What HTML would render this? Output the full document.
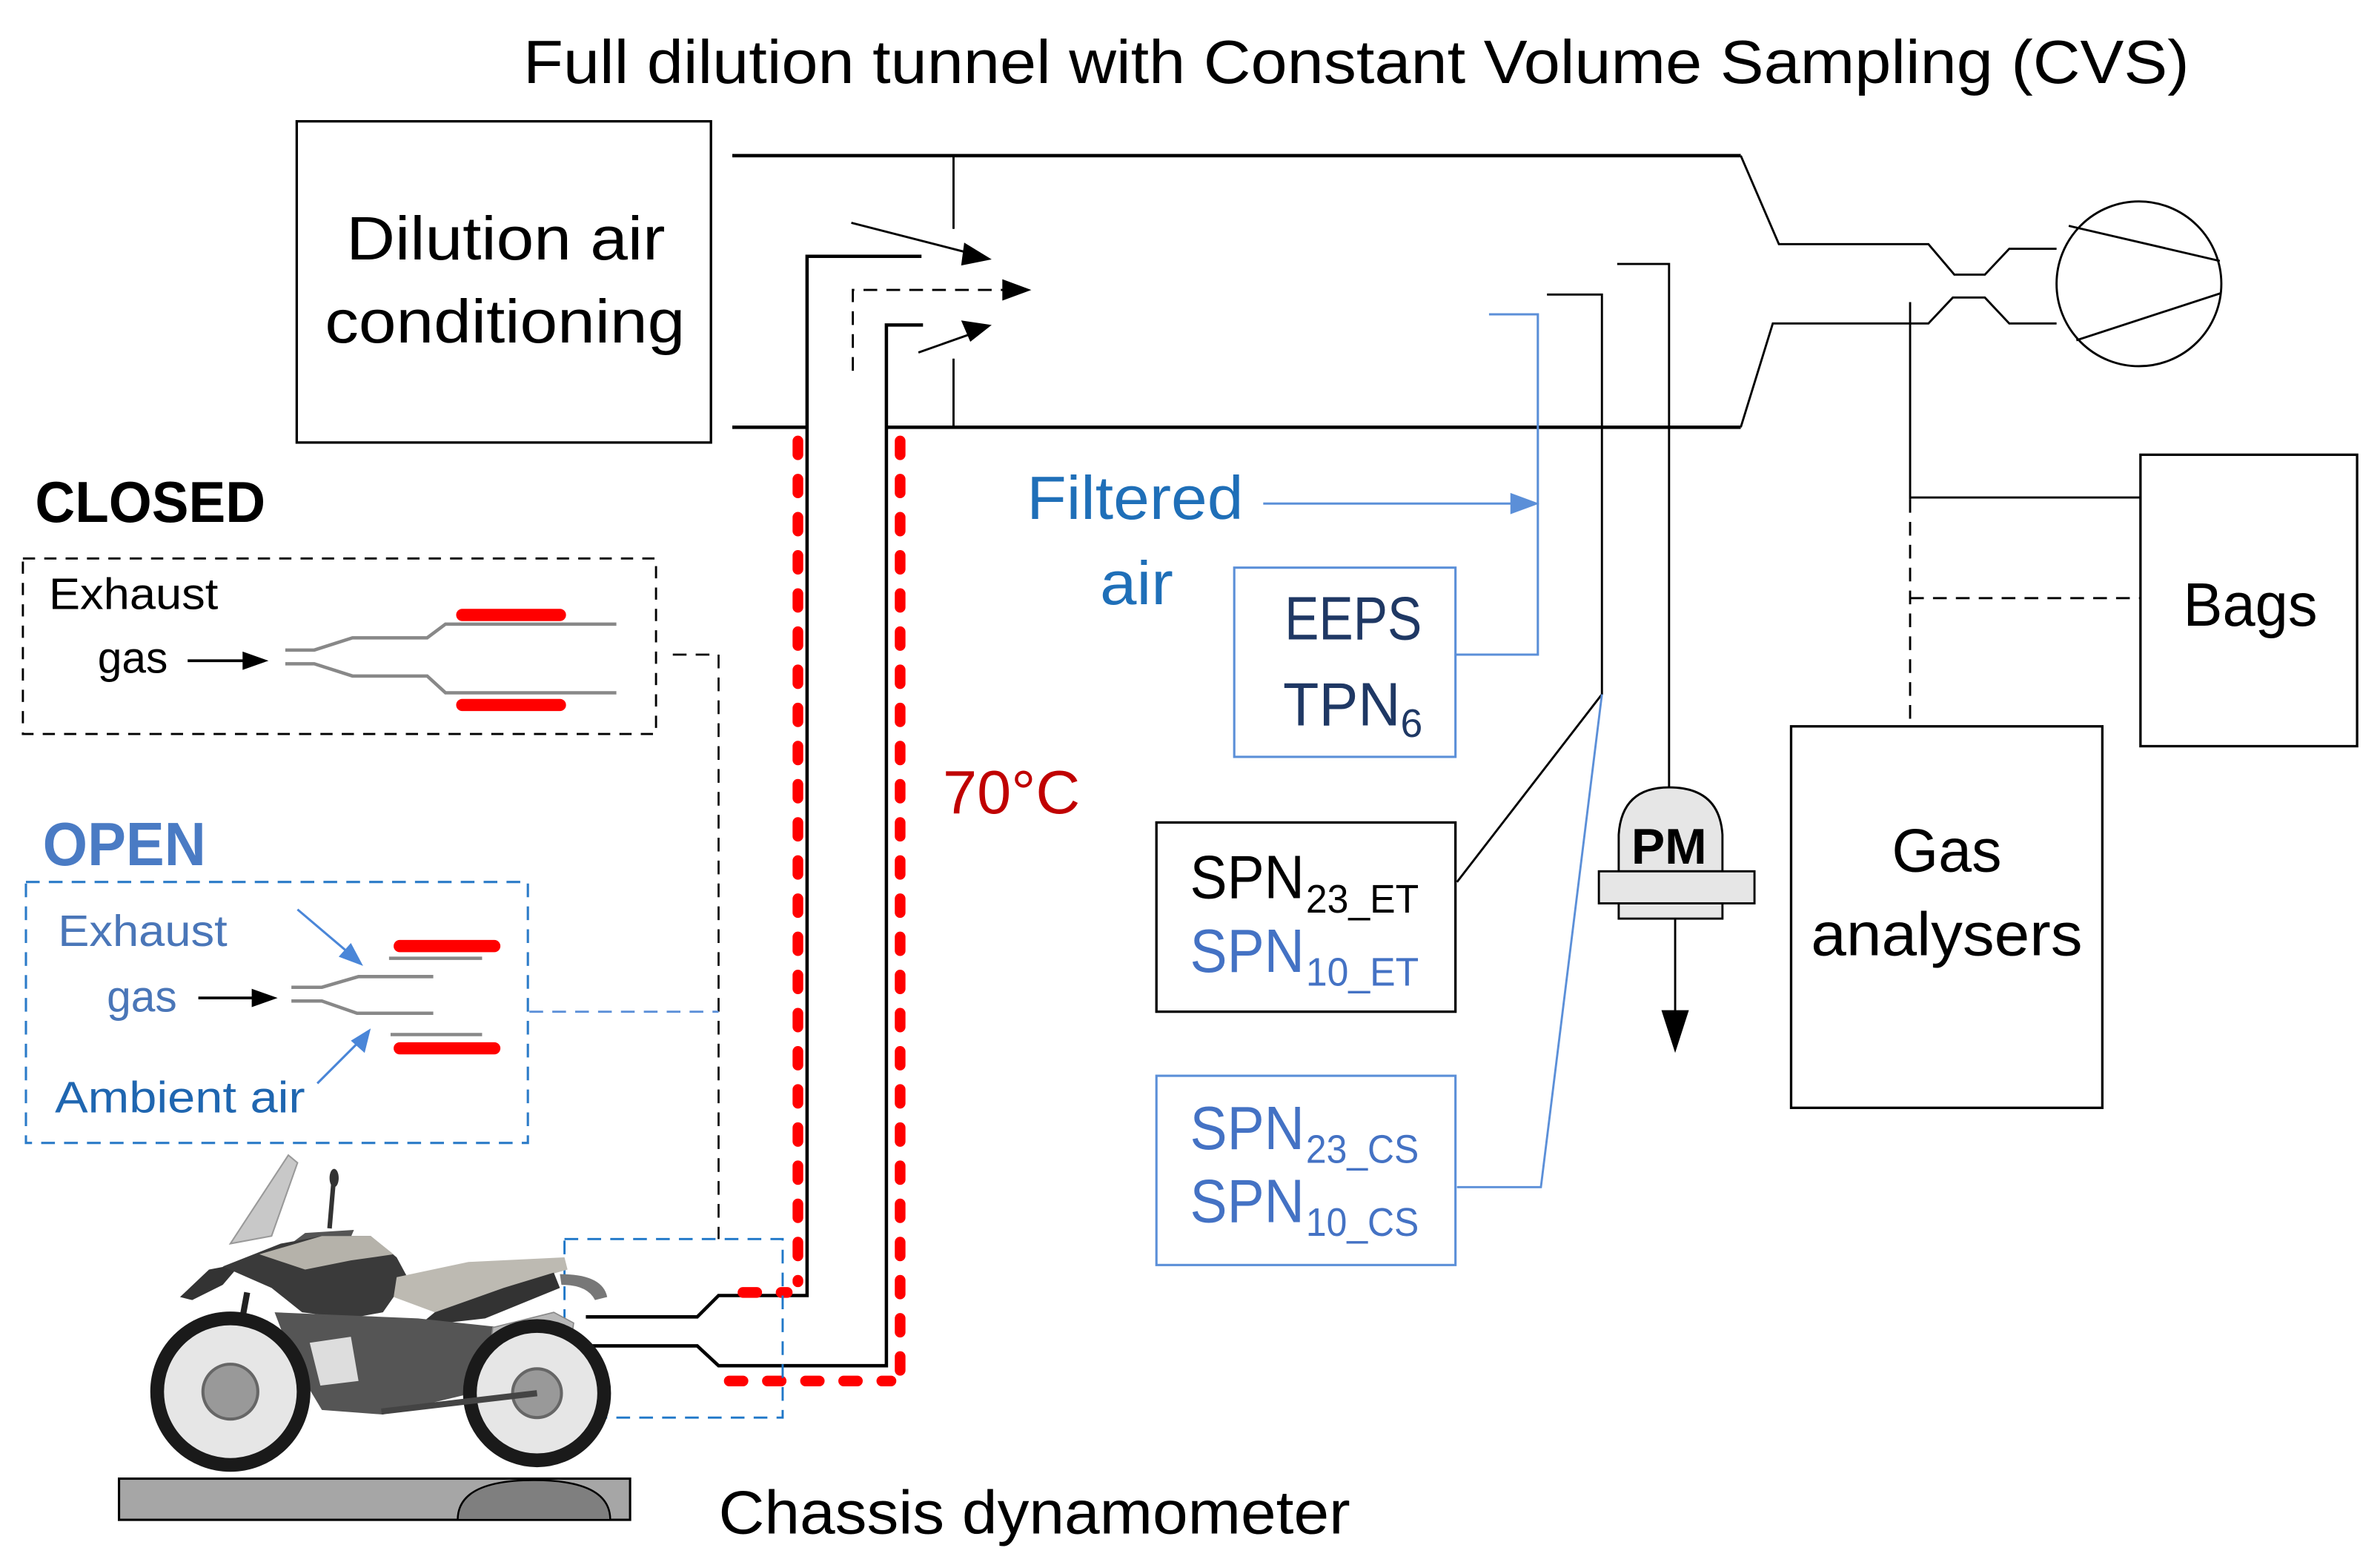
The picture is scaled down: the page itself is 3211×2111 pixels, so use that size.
<!DOCTYPE html>
<html><head><meta charset="utf-8"><style>
html,body{margin:0;padding:0;background:#fff;}
svg{display:block;}
text{font-family:"Liberation Sans",sans-serif;}
</style></head><body>
<svg width="3211" height="2111" viewBox="0 0 1560 1025.6" preserveAspectRatio="none" xmlns="http://www.w3.org/2000/svg">
<rect x="0" y="0" width="1560" height="1025.6" fill="#fff"/>

<text x="343" y="54.5" font-size="40" textLength="1092" lengthAdjust="spacingAndGlyphs" fill="#000">Full dilution tunnel with Constant Volume Sampling (CVS)</text>

<rect x="194.5" y="79.5" width="271.5" height="210.5" fill="none" stroke="#000" stroke-width="1.6"/>
<text x="227" y="170" font-size="40" textLength="209" lengthAdjust="spacingAndGlyphs">Dilution air</text>
<text x="213" y="224.5" font-size="40" textLength="236" lengthAdjust="spacingAndGlyphs">conditioning</text>

<g fill="none" stroke="#000" stroke-width="2.2" stroke-linejoin="miter">
<polyline points="480,102 1141,102"/>
<polyline points="480,280 529,280"/>
<polyline points="581,280 1141,280"/>
</g>
<g fill="none" stroke="#000" stroke-width="1.4">
<polyline points="1141,102 1166,160 1264,160 1281,180 1301,180 1317,163 1348,163"/>
<polyline points="1141,280 1162,212 1264,212 1280,195 1301,195 1317,212 1348,212"/>
<circle cx="1402" cy="186" r="54"/>
<line x1="1356" y1="148" x2="1455" y2="171"/>
<line x1="1361" y1="223" x2="1456" y2="192"/>
<line x1="625" y1="102" x2="625" y2="150"/>
<line x1="625" y1="235" x2="625" y2="280"/>
<line x1="558" y1="146" x2="636" y2="166"/>
<line x1="602" y1="231" x2="636" y2="219"/>
</g>
<polygon points="650,170 632,159 630,174" fill="#000"/>
<polygon points="650,213 630,210 636,224" fill="#000"/>
<g fill="none" stroke="#000" stroke-width="1.4" stroke-dasharray="9 6">
<polyline points="559,243 559,190 660,190"/>
</g>
<polygon points="676,190 657,183 657,197" fill="#000"/>

<g fill="none" stroke="#000" stroke-width="2.2">
<polyline points="604,168 529,168 529,849 471,849 457,863 384,863"/>
<polyline points="605,213 581,213 581,895 471,895 457,882 384,882"/>
</g>

<g fill="none" stroke="#ff0000" stroke-width="7" stroke-linecap="round" stroke-dasharray="9 16">
<line x1="523" y1="289" x2="523" y2="840"/>
<line x1="590" y1="289" x2="590" y2="905"/>
<line x1="487" y1="847" x2="516" y2="847"/>
<line x1="478" y1="905" x2="584" y2="905"/>
</g>
<text x="618" y="533" font-size="40" textLength="90" lengthAdjust="spacingAndGlyphs" fill="#c00000">70°C</text>

<text x="23" y="342" font-size="38" font-weight="bold" textLength="151" lengthAdjust="spacingAndGlyphs">CLOSED</text>
<rect x="15" y="366" width="415" height="115" fill="none" stroke="#000" stroke-width="1.4" stroke-dasharray="8 6"/>
<text x="32" y="399" font-size="29" textLength="111" lengthAdjust="spacingAndGlyphs">Exhaust</text>
<text x="64" y="441" font-size="29" textLength="46" lengthAdjust="spacingAndGlyphs">gas</text>
<line x1="123" y1="433" x2="162" y2="433" stroke="#000" stroke-width="1.8"/>
<polygon points="176,433 159,427 159,439" fill="#000"/>
<g fill="none" stroke="#888" stroke-width="2.2">
<polyline points="187,426 206,426 231,418 280,418 292,409 404,409"/>
<polyline points="187,435 206,435 231,443 280,443 292,454 404,454"/>
</g>
<g stroke="#ff0000" stroke-width="8" stroke-linecap="round">
<line x1="303" y1="403" x2="367" y2="403"/>
<line x1="303" y1="462" x2="367" y2="462"/>
</g>
<polyline points="441,429 471,429 471,812" fill="none" stroke="#000" stroke-width="1.3" stroke-dasharray="9 6"/>

<text x="28" y="567" font-size="40" font-weight="bold" textLength="107" lengthAdjust="spacingAndGlyphs" fill="#4a7bc4">OPEN</text>
<rect x="17" y="578" width="329" height="171" fill="none" stroke="#2b7bc8" stroke-width="1.5" stroke-dasharray="9 6"/>
<text x="38" y="620" font-size="29" textLength="111" lengthAdjust="spacingAndGlyphs" fill="#4a76b8">Exhaust</text>
<text x="70" y="663" font-size="29" textLength="46" lengthAdjust="spacingAndGlyphs" fill="#4a76b8">gas</text>
<text x="36" y="729" font-size="29" textLength="164" lengthAdjust="spacingAndGlyphs" fill="#1f66b0">Ambient air</text>
<line x1="130" y1="654" x2="168" y2="654" stroke="#000" stroke-width="1.8"/>
<polygon points="182,654 165,648 165,660" fill="#000"/>
<g fill="none" stroke="#888" stroke-width="2.2">
<polyline points="191,647 211,647 235,640 284,640"/>
<polyline points="191,656 211,656 234,664 284,664"/>
<line x1="255" y1="628" x2="316" y2="628"/>
<line x1="256" y1="678" x2="316" y2="678"/>
</g>
<g stroke="#ff0000" stroke-width="8" stroke-linecap="round">
<line x1="262" y1="620" x2="324" y2="620"/>
<line x1="262" y1="687" x2="324" y2="687"/>
</g>
<g stroke="#4a86d8" stroke-width="1.5" fill="none">
<line x1="195" y1="596" x2="228" y2="624"/>
<line x1="208" y1="710" x2="236" y2="682"/>
</g>
<polygon points="238,633 222,627 230,618" fill="#4a86d8"/>
<polygon points="243,674 239,690 230,682" fill="#4a86d8"/>
<line x1="347" y1="663" x2="471" y2="663" stroke="#5b8fd8" stroke-width="1.4" stroke-dasharray="9 6"/>

<rect x="370" y="812" width="143" height="117" fill="none" stroke="#1f77c8" stroke-width="1.4" stroke-dasharray="9 6"/>

<g>
<polygon points="151,815 189,757 195,762 178,810" fill="#c8c8c8" stroke="#999" stroke-width="1"/>
<line x1="219" y1="770" x2="216" y2="805" stroke="#333" stroke-width="3"/>
<ellipse cx="219" cy="772" rx="3" ry="6" fill="#333"/>
<polygon points="184,820 200,808 232,806 226,820 205,830" fill="#555"/>
<polygon points="118,850 137,832 158,828 146,842 126,852" fill="#333"/>
<polygon points="146,830 184,815 211,810 243,810 260,824 267,837 258,850 251,860 229,864 198,860 178,844" fill="#3a3a3a"/>
<polygon points="170,822 211,810 243,810 258,822 230,826 200,832" fill="#b5b2aa"/>
<polygon points="260,837 307,827 370,824 372,832 330,844 285,860 258,850" fill="#bdbab2"/>
<polygon points="285,860 330,844 363,834 367,844 318,864 274,869" fill="#333"/>
<polygon points="180,860 274,864 330,870 318,911 251,927 211,924 193,894" fill="#555"/>
<polygon points="203,880 230,876 235,905 210,908" fill="#ddd"/>
<polygon points="323,870 363,860 376,867 374,882 332,907 320,894" fill="#b8b8b8" stroke="#888" stroke-width="0.8"/>
<path d="M367,835 Q395,835 398,850 L390,852 Q385,842 368,842 Z" fill="#777"/>
<path d="M370,880 Q395,890 398,915 L392,915 Q388,895 368,888 Z" fill="#222"/>
<line x1="162" y1="847" x2="150" y2="912" stroke="#222" stroke-width="4"/>
<circle cx="151" cy="912" r="48" fill="#e6e6e6" stroke="#1a1a1a" stroke-width="9"/>
<circle cx="151" cy="912" r="18" fill="#999" stroke="#666" stroke-width="2"/>
<circle cx="352" cy="913" r="44" fill="#e6e6e6" stroke="#1a1a1a" stroke-width="9"/>
<circle cx="352" cy="913" r="16" fill="#999" stroke="#666" stroke-width="2"/>
<line x1="250" y1="925" x2="352" y2="913" stroke="#444" stroke-width="4"/>
</g>

<rect x="78" y="969" width="335" height="27" fill="#a6a6a6" stroke="#000" stroke-width="1.5"/>
<path d="M300,996 Q300,970 350,970 Q400,970 400,996 Z" fill="#7f7f7f" stroke="#000" stroke-width="1.2"/>
<text x="471" y="1005" font-size="40" textLength="414" lengthAdjust="spacingAndGlyphs">Chassis dynamometer</text>

<text x="673" y="340" font-size="40" textLength="142" lengthAdjust="spacingAndGlyphs" fill="#1f6fb8">Filtered</text>
<text x="721" y="396" font-size="40" textLength="48" lengthAdjust="spacingAndGlyphs" fill="#1f6fb8">air</text>
<line x1="828" y1="330" x2="994" y2="330" stroke="#5b8fd8" stroke-width="1.5"/>
<polygon points="1009,330 990,323 990,337" fill="#5b8fd8"/>
<polyline points="976,206 1008,206 1008,429 954,429" fill="none" stroke="#5b8fd8" stroke-width="1.5"/>

<rect x="809" y="372" width="145" height="124" fill="none" stroke="#5b8fd8" stroke-width="1.5"/>
<text x="842" y="419" font-size="40" textLength="90" lengthAdjust="spacingAndGlyphs" fill="#1f3864">EEPS</text>
<text x="841" y="475.5" font-size="40" textLength="77" lengthAdjust="spacingAndGlyphs" fill="#1f3864">TPN</text>
<text x="918" y="483" font-size="26" fill="#1f3864">6</text>

<polyline points="1014,193 1050,193 1050,455 955,578" fill="none" stroke="#000" stroke-width="1.4"/>
<polyline points="1050,455 1010,778 955,778" fill="none" stroke="#5b8fd8" stroke-width="1.4"/>
<polyline points="1060,173 1094,173 1094,516" fill="none" stroke="#000" stroke-width="1.4"/>

<rect x="758" y="539" width="196" height="124" fill="none" stroke="#000" stroke-width="1.6"/>
<text x="780" y="588.5" font-size="40" textLength="75" lengthAdjust="spacingAndGlyphs">SPN</text>
<text x="856" y="598" font-size="26" textLength="74" lengthAdjust="spacingAndGlyphs">23_ET</text>
<text x="780" y="637" font-size="40" textLength="75" lengthAdjust="spacingAndGlyphs" fill="#4472c4">SPN</text>
<text x="856" y="646" font-size="26" textLength="74" lengthAdjust="spacingAndGlyphs" fill="#4472c4">10_ET</text>

<rect x="758" y="705" width="196" height="124" fill="none" stroke="#5b8fd8" stroke-width="1.5"/>
<text x="780" y="753" font-size="40" textLength="75" lengthAdjust="spacingAndGlyphs" fill="#4472c4">SPN</text>
<text x="856" y="762" font-size="26" textLength="74" lengthAdjust="spacingAndGlyphs" fill="#4472c4">23_CS</text>
<text x="780" y="801" font-size="40" textLength="75" lengthAdjust="spacingAndGlyphs" fill="#4472c4">SPN</text>
<text x="856" y="810" font-size="26" textLength="74" lengthAdjust="spacingAndGlyphs" fill="#4472c4">10_CS</text>

<path d="M1061,571 L1061,547 Q1063,516 1094,516 Q1127,516 1129,547 L1129,571 Z" fill="#e6e6e6" stroke="#000" stroke-width="1.4"/>
<rect x="1061" y="592" width="68" height="10" fill="#e6e6e6" stroke="#000" stroke-width="1.4"/>
<rect x="1048" y="571" width="102" height="21" fill="#e6e6e6" stroke="#000" stroke-width="1.4"/>
<text x="1094" y="566" font-size="33" font-weight="bold" text-anchor="middle">PM</text>
<line x1="1098" y1="602" x2="1098" y2="665" stroke="#000" stroke-width="1.4"/>
<polygon points="1089,662 1107,662 1098,690" fill="#000"/>

<g fill="none" stroke="#000" stroke-width="1.4">
<line x1="1252" y1="198" x2="1252" y2="327"/>
<line x1="1252" y1="326" x2="1403" y2="326"/>
<line x1="1252" y1="327" x2="1252" y2="476" stroke-dasharray="9 6"/>
<line x1="1252" y1="392" x2="1403" y2="392" stroke-dasharray="9 6"/>
</g>
<rect x="1174" y="476" width="204" height="250" fill="none" stroke="#000" stroke-width="1.6"/>
<text x="1276" y="571" font-size="40" text-anchor="middle" textLength="72" lengthAdjust="spacingAndGlyphs">Gas</text>
<text x="1187" y="626" font-size="40" textLength="178" lengthAdjust="spacingAndGlyphs">analysers</text>
<rect x="1403" y="298" width="142" height="191" fill="none" stroke="#000" stroke-width="1.6"/>
<text x="1431" y="410" font-size="40" textLength="88" lengthAdjust="spacingAndGlyphs">Bags</text>
</svg>
</body></html>
